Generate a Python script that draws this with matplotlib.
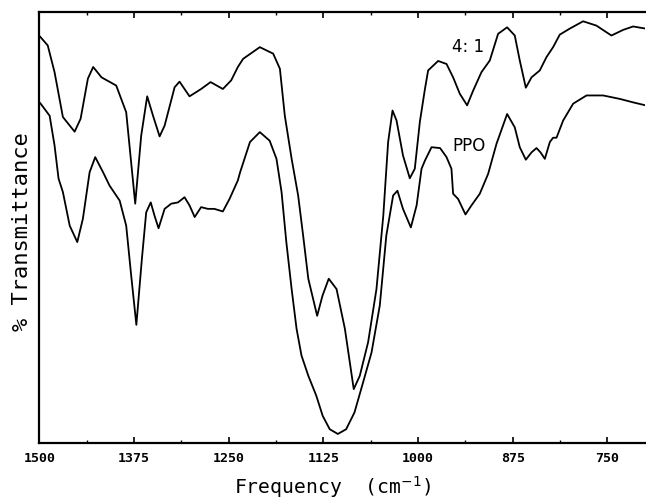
"""IR spectra of the 4:1 blend and PPO"""

import matplotlib
matplotlib.use('Agg')
import matplotlib.pyplot as plt

# 4:1 blend (upper trace), frequency in cm-1 and relative transmittance
freq_41 = [1500, 1498.4, 1489, 1480, 1469, 1453.5, 1445.6, 1436, 1429, 1418,
           1398.6, 1385.4, 1373.5, 1365.6, 1357.7, 1350, 1341.3, 1334.7, 1321.5,
           1315, 1301.8, 1286.5, 1274, 1257.8, 1246.8, 1238, 1231, 1209, 1191.4,
           1182.5, 1176, 1167, 1158.4, 1151.8, 1145, 1133.3, 1126.2, 1118, 1107.7,
           1096.7, 1085, 1077, 1066, 1055, 1046, 1039.6, 1033.8, 1028.5, 1020,
           1011, 1004.4, 997.7, 991, 986.8, 973.6, 962.5, 953.8, 945, 935.3,
           927.4, 916.4, 905.4, 894.4, 882.5, 872.4, 865.8, 857.8, 850.3, 839.4,
           830.5, 821.8, 813, 799.8, 782.2, 764.6, 744.8, 729.4, 716.2, 699.5]
trans_41 = [0.944, 0.941, 0.922, 0.860, 0.756, 0.722, 0.752, 0.845, 0.872, 0.848,
            0.829, 0.767, 0.555, 0.713, 0.804, 0.759, 0.711, 0.736, 0.825,
            0.838, 0.804, 0.821, 0.837, 0.821, 0.841, 0.872, 0.891, 0.918, 0.903,
            0.868, 0.759, 0.659, 0.574, 0.481, 0.381, 0.295, 0.342, 0.381, 0.357,
            0.265, 0.125, 0.156, 0.234, 0.357, 0.527, 0.698, 0.771, 0.748, 0.667,
            0.614, 0.636, 0.745, 0.821, 0.864, 0.886, 0.879, 0.848, 0.810, 0.783,
            0.817, 0.860, 0.887, 0.949, 0.964, 0.945, 0.887, 0.824, 0.848, 0.864,
            0.895, 0.918, 0.947, 0.961, 0.978, 0.968, 0.945, 0.958, 0.966, 0.961]

# PPO (lower trace)
freq_ppo = [1500, 1498.4, 1486.5, 1480, 1474.7, 1469, 1460, 1450, 1442.6, 1433.7,
            1426.3, 1416, 1407.4, 1394, 1385.4, 1378.8, 1372, 1364.7, 1359, 1353,
            1348, 1342.7, 1334.7, 1326, 1317, 1308.4, 1301.8, 1295, 1286.5, 1277.6,
            1269, 1257.8, 1249, 1238, 1235, 1222, 1209, 1196, 1187, 1180.3, 1174,
            1167, 1160.5, 1154, 1145, 1134.5, 1126, 1116.7, 1106, 1095, 1084,
            1072.6, 1061.5, 1050.6, 1042, 1033, 1027.3, 1020, 1009.6, 1002, 995.5,
            991, 982.3, 971, 962.5, 956, 953.8, 947.2, 937.5, 929.6, 918.6, 907.6,
            896.5, 882.5, 872.4, 865.8, 857.8, 850.3, 843.7, 838.4, 832.7, 826.1,
            821.8, 817.3, 808.5, 795.3, 777.7, 755.7, 733.7, 716.2, 699.5]
trans_ppo = [0.790, 0.787, 0.759, 0.690, 0.613, 0.582, 0.504, 0.466, 0.520, 0.628,
             0.663, 0.628, 0.597, 0.562, 0.504, 0.388, 0.274, 0.427, 0.535, 0.558,
             0.527, 0.498, 0.543, 0.555, 0.558, 0.570, 0.551, 0.524, 0.547, 0.543,
             0.543, 0.537, 0.566, 0.609, 0.628, 0.698, 0.721, 0.701, 0.659, 0.582,
             0.466, 0.357, 0.265, 0.203, 0.156, 0.110, 0.063, 0.032, 0.021, 0.032,
             0.071, 0.141, 0.210, 0.319, 0.481, 0.574, 0.585, 0.543, 0.500, 0.551,
             0.636, 0.655, 0.686, 0.684, 0.663, 0.636, 0.578, 0.566, 0.530, 0.551,
             0.578, 0.624, 0.694, 0.763, 0.732, 0.686, 0.657, 0.674, 0.684, 0.674,
             0.659, 0.698, 0.708, 0.708, 0.748, 0.787, 0.806, 0.806, 0.798, 0.790,
             0.783]

major_ticks = [1500, 1375, 1250, 1125, 1000, 875, 750]
minor_ticks = [1437.5, 1312.5, 1187.5, 1062.5, 937.5, 812.5]

fig = plt.figure(figsize=(6.46, 5.02), dpi=100)
ax = fig.add_axes([0.061, 0.1155, 0.938, 0.859])

ax.plot(freq_41, trans_41, color='black', lw=1.3)
ax.plot(freq_ppo, trans_ppo, color='black', lw=1.3)

# curve labels
ax.text(934, 0.920, '4: 1', family='DejaVu Sans', fontsize=12,
        ha='center', va='center')
ax.text(933, 0.690, 'PPO', family='DejaVu Sans', fontsize=12,
        ha='center', va='center')

ax.set_xlim(1500, 700)
ax.set_ylim(0, 1)
ax.set_xticks(major_ticks)
ax.set_xticks(minor_ticks, minor=True)
ax.set_xticklabels([str(t) for t in major_ticks], family='DejaVu Sans Mono',
                   fontsize=9.5, fontweight='bold')
ax.set_yticks([])
ax.tick_params(axis='x', which='major', direction='in', top=True, length=4,
               width=1.2, pad=6)
ax.tick_params(axis='x', which='minor', direction='in', top=True, length=2.5,
               width=1.0)
ax.spines['right'].set_visible(False)
for side in ['left', 'top', 'bottom']:
    ax.spines[side].set_linewidth(1.6)

ax.set_xlabel('Frequency  (cm$^{-1}$)', family='DejaVu Sans Mono', fontsize=14.2,
              labelpad=6, x=0.4835)
ax.set_ylabel('% Transmittance', family='DejaVu Sans Mono', fontsize=15.8,
              labelpad=5, y=0.493)

fig.savefig('out.png', dpi=100)
